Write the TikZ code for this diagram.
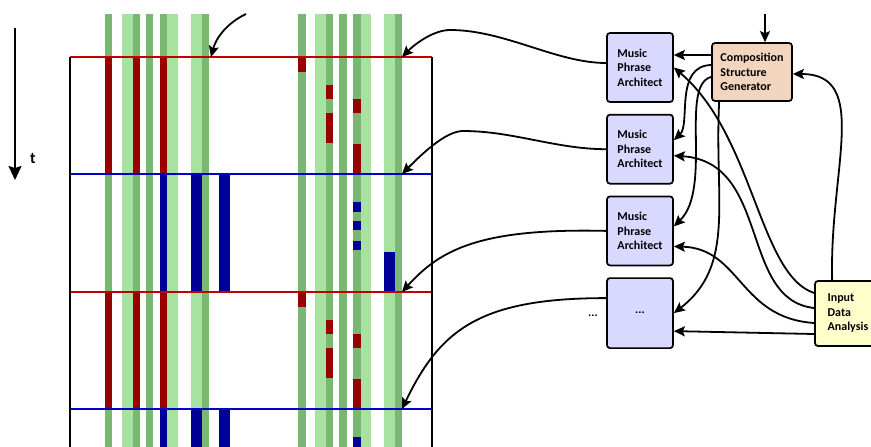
\documentclass[tikz,border=0pt]{standalone}
\usepackage{fontspec}
\setmainfont{Carlito}
\usetikzlibrary{arrows.meta,positioning,calc}
\definecolor{NoteRed}{HTML}{990000}
\definecolor{NoteBlue}{HTML}{000099}
\definecolor{LineRed}{HTML}{C00000}
\definecolor{LineBlue}{HTML}{0000C8}
\definecolor{KeyDark}{HTML}{78B870}
\definecolor{KeyLight}{HTML}{A8E2A0}
\definecolor{ArchFill}{HTML}{D9D9FF}
\definecolor{CompFill}{HTML}{F1D5BE}
\definecolor{InFill}{HTML}{FFFFCC}

\begin{document}
\begin{tikzpicture}[x=1pt,y=-1pt,>={Stealth[length=11pt,width=10pt,inset=2pt]},
 every node/.style={font=\bfseries\fontsize{12pt}{14.5pt}\selectfont},
 arch/.style={rounded corners=3pt,draw,line width=1.7pt,fill=ArchFill,minimum width=66pt,minimum height=69pt,align=left},
 comp/.style={rounded corners=3pt,draw,line width=1.7pt,fill=CompFill,minimum width=80pt,minimum height=58pt,align=left},
 inp/.style={rounded corners=3pt,draw,line width=1.7pt,fill=InFill,minimum width=66pt,minimum height=65pt,align=left},
 conn/.style={->,line width=1.8pt}]
\useasboundingbox (0,0) rectangle (871,447);
\clip (0,0) rectangle (871,447);
\foreach \a/\b in {122/133,167/178,191/202,315/326,361/371,384/395}
  \fill[KeyLight] (\a,14) rectangle (\b,447);
\foreach \a/\b in {105/112,133/140,146/153,160/167,202/209,298/306,326/333,339/347,353/361,395/402}
  \fill[KeyDark] (\a,14) rectangle (\b,447);
\foreach \d in {0,235}{
  \foreach \a/\b/\c/\e in {105/112/57/174,133/140/57/174,160/167/57/174,298/306/57/72,326/333/85/99,326/333/113/143,353/361/99/113,353/361/144/174}
    \fill[NoteRed] (\a,\c+\d) rectangle (\b,\e+\d);
  \foreach \a/\b/\c/\e in {160/167/174/292,191/202/174/292,219/230/174/292,353/361/202/212,353/361/221/230,353/361/241/250,384/395/252/292}
    \fill[NoteBlue] (\a,\c+\d) rectangle (\b,\e+\d);
}
\foreach \y/\c in {57/LineRed,174/LineBlue,292/LineRed,409/LineBlue}
  \draw[\c,line width=1.3pt] (70,\y) -- (432,\y);
\draw[line width=1.5pt] (70,57) -- (70,447) (432,57) -- (432,447);

\coordinate (tfrom) at (15,28);
\coordinate (tto) at (15,180);
\draw[line width=1.8pt,-{Stealth[length=14pt,width=13pt,inset=2pt]}] (tfrom) -- (tto);
\node[font=\bfseries\fontsize{16pt}{18pt}\selectfont] (tlab) at (33,159) {t};

\node[arch] (mpa1) at (640,67.5) {Music\\Phrase\\Architect};
\node[arch,below=11pt of mpa1] (mpa2) {Music\\Phrase\\Architect};
\node[arch,below=11pt of mpa2] (mpa3) {Music\\Phrase\\Architect};
\node[arch,below=11pt of mpa3,minimum height=70pt] (mpa4) {...};
\node (more) at (593,316) {...};
\node[comp] (csg) at (752,72) {Composition\\Structure\\Generator};
\node[inp] (ida) at (848,313.5) {Input\\Data\\Analysis};

\coordinate (hit0) at (211,57);
\coordinate (hit1) at (402,57);
\coordinate (hit2) at (402,174);
\coordinate (hit3) at (402,292);
\coordinate (hit4) at (402,409);
\coordinate (topin) at (246,14);
\coordinate (csgin) at (765,14);
\coordinate (c1) at ([yshift=17pt]csg.west);

\draw[conn] (topin) .. controls +(-19,9) and +(5,-19) .. (hit0);
\draw[conn] ([yshift=4.5pt]mpa1.west) .. controls +(-50,0) and +(55,0) .. (450,30) .. controls +(-15,0) and +(15,-15) .. (hit1);
\draw[conn] (mpa2.west) .. controls +(-50,0) and +(50,0) .. (463,131) .. controls +(-18,0) and +(18,-18) .. (hit2);
\draw[conn] (mpa3.west) .. controls +(-127,-3) and +(38,-42) .. (hit3);
\draw[conn] ([yshift=15pt]mpa4.west) .. controls +(-127,0) and +(38,-79) .. (hit4);

\draw[conn] (csgin) -- (csgin |- csg.north);
\draw[conn] (c1) -- (c1 -| mpa1.east);
\draw[conn] ([yshift=7pt]csg.west) .. controls +(-37,1) and +(17,-16) .. ([yshift=9pt]mpa2.east);
\draw[conn] ([yshift=-5pt]csg.west) .. controls +(-32,8) and +(39,-38) .. ([yshift=4.5pt]mpa3.east);
\draw[conn] ([xshift=8pt]csg.south west) .. controls +(-5,99) and +(62,-48) .. (mpa4.east);

\draw[conn] ([xshift=18pt]ida.north west) .. controls +(-3,-111) and +(78,0) .. ([yshift=-2pt]csg.east);
\draw[conn] ([yshift=20.5pt]ida.west) .. controls +(-55,-18) and +(80,68) .. (mpa1.east);
\draw[conn] ([yshift=5.5pt]ida.west) .. controls +(-75,-8) and +(97,6) .. ([yshift=-6.5pt]mpa2.east);
\draw[conn] ([yshift=-9.5pt]ida.west) .. controls +(-75,-5) and +(67,2) .. ([yshift=-15.5pt]mpa3.east);
\draw[conn] ([yshift=-20.5pt]ida.west) -- ([yshift=-18pt]mpa4.east);
\end{tikzpicture}
\end{document}
